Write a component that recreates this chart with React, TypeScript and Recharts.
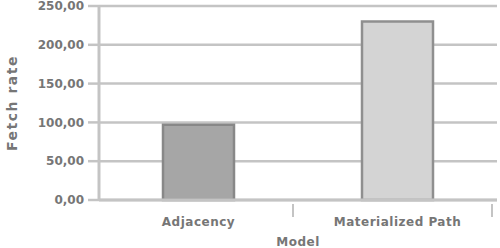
import React from 'react';
import { BarChart, Bar, XAxis, YAxis, CartesianGrid, Cell, Label } from 'recharts';

const categories = ['Adjacency', 'Materialized Path'];
const fetchRates = [97, 230];
const barFills = ['#a6a6a6', '#d4d4d4'];
const barStrokes = ['#888888', '#8f8f8f'];
const yTicks = [0, 50, 100, 150, 200, 250];

const data = categories.map((name, i) => ({ name, value: fetchRates[i] }));

const textColor = '#767676';
const lineColor = '#c4c4c4';
const font = '"DejaVu Sans", sans-serif';

const XTick = (props: any) => {
  const { x, y, payload } = props;
  const half = 99.5;
  return (
    <g>
      <line x1={x + half - 5} y1={y - 4} x2={x + half - 5} y2={y + 9} stroke={lineColor} strokeWidth={2} />
      <text x={x} y={y + 18} textAnchor="middle" fill={textColor} fontSize={12} letterSpacing={0.5} fontFamily={font} fontWeight="bold">
        {payload.value}
      </text>
    </g>
  );
};

export default function App() {
  return (
    <div style={{ position: 'absolute', left: 0, top: 0, width: 500, height: 248, background: '#fff' }}>
      <BarChart width={500} height={248} data={data} margin={{ top: 6, right: 3, left: 0, bottom: 0 }}>
        <CartesianGrid horizontal vertical={false} stroke={lineColor} strokeWidth={2.5} />
        <XAxis
          dataKey="name"
          height={48}
          axisLine={{ stroke: lineColor, strokeWidth: 3 }}
          tickLine={false}
          tick={<XTick />}
          interval={0}
        >
          <Label value="Model" position="insideBottom" offset={2} fill={textColor} fontSize={12} letterSpacing={0.5} fontFamily={font} fontWeight="bold" />
        </XAxis>
        <YAxis
          width={99}
          domain={[0, 250]}
          ticks={yTicks}
          interval={0}
          axisLine={{ stroke: lineColor, strokeWidth: 3 }}
          tickLine={{ stroke: lineColor, strokeWidth: 2.5 }}
          tickSize={11}
          tickMargin={4}
          tickFormatter={(v: number) => v.toFixed(2).replace('.', ',')}
          tick={{ fill: textColor, fontSize: 12, fontFamily: font, fontWeight: 'bold' }}
        >
          <Label value="Fetch rate" angle={-90} position="insideLeft" offset={12} fill={textColor} fontSize={14} letterSpacing={1.5} fontFamily={font} fontWeight="bold" style={{ textAnchor: 'middle' }} />
        </YAxis>
        <Bar dataKey="value" barSize={71} isAnimationActive={false} strokeWidth={2.5}>
          {data.map((d, i) => (
            <Cell key={d.name} fill={barFills[i]} stroke={barStrokes[i]} />
          ))}
        </Bar>
      </BarChart>
    </div>
  );
}
